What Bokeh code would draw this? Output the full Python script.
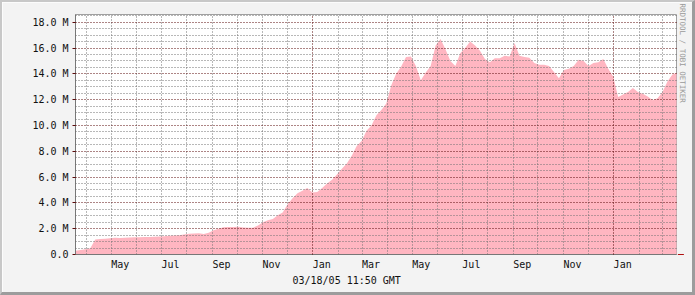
import pandas as pd
from bokeh.plotting import figure
from bokeh.layouts import column
from bokeh.models import Range1d, FixedTicker, Grid, Title, Arrow, NormalHead
from bokeh.embed import file_html
from bokeh.resources import INLINE

# ---------------- data ----------------
epoch = "2003-01-01"
window_start = "2003-03-18 11:50"
window_end = "2005-03-18 11:50"
sample_step = "6D"
values_m = [
    0.30, 0.34, 0.40, 0.48, 1.17, 1.20, 1.22, 1.25, 1.29, 1.28,
    1.30, 1.31, 1.33, 1.34, 1.36, 1.35, 1.38, 1.40, 1.42, 1.45,
    1.48, 1.50, 1.55, 1.60, 1.62, 1.64, 1.58, 1.68, 1.88, 2.00,
    2.12, 2.14, 2.13, 2.15, 2.10, 2.07, 2.08, 2.25, 2.50, 2.65,
    2.75, 3.05, 3.25, 3.90, 4.35, 4.75, 4.95, 5.15, 4.80, 4.85,
    5.15, 5.50, 5.80, 6.20, 6.65, 7.05, 7.65, 8.40, 8.80, 9.60,
    10.00, 10.80, 11.20, 11.70, 13.10, 14.00, 14.55, 15.30, 15.35, 14.60,
    13.50, 14.10, 14.60, 16.20, 16.70, 15.90, 15.00, 14.60, 15.60, 16.00,
    16.50, 16.20, 15.80, 15.15, 14.90, 15.20, 15.20, 15.40, 15.35, 16.40,
    15.40, 15.30, 15.25, 14.85, 14.70, 14.70, 14.60, 14.15, 13.65, 14.30,
    14.40, 14.60, 15.10, 15.00, 14.60, 14.85, 14.90, 15.15, 14.40, 13.80,
    12.20, 12.40, 12.60, 12.90, 12.60, 12.45, 12.25, 11.95, 12.10, 12.60,
    13.40, 13.95, 14.10,
]
y_ticks = [0, 2, 4, 6, 8, 10, 12, 14, 16, 18]
y_tick_labels = ["0.0", "2.0 M", "4.0 M", "6.0 M", "8.0 M", "10.0 M",
                 "12.0 M", "14.0 M", "16.0 M", "18.0 M"]
y_top = 18.6
y_minor = [0.5, 1, 1.5, 2.5, 3, 3.5, 4.5, 5, 5.5, 6.5, 7, 7.5, 8.5, 9, 9.5,
           10.5, 11, 11.5, 12.5, 13, 13.5, 14.5, 15, 15.5, 16.5, 17, 17.5, 18.5]
month_lines = ["2003-04-01", "2003-05-01", "2003-06-01", "2003-07-01", "2003-08-01",
               "2003-09-01", "2003-10-01", "2003-11-01", "2003-12-01", "2004-02-01",
               "2004-03-01", "2004-04-01", "2004-05-01", "2004-06-01", "2004-07-01",
               "2004-08-01", "2004-09-01", "2004-10-01", "2004-11-01", "2004-12-01",
               "2005-02-01", "2005-03-01"]
year_lines = ["2004-01-01", "2005-01-01"]
label_months = ["2003-05-01", "2003-07-01", "2003-09-01", "2003-11-01", "2004-01-01",
                "2004-03-01", "2004-05-01", "2004-07-01", "2004-09-01", "2004-11-01",
                "2005-01-01"]
label_text = ["May", "Jul", "Sep", "Nov", "Jan", "Mar", "May", "Jul", "Sep", "Nov", "Jan"]
stamp = "03/18/05 11:50 GMT"
watermark = "RRDTOOL / TOBI OETIKER"

# ---------------- helpers ----------------
t0 = pd.Timestamp(epoch)
day = pd.Timedelta(days=1)


def to_days(d):
    return float((pd.Timestamp(d) - t0) / day)


sample_dates = pd.date_range(window_start, periods=len(values_m), freq=sample_step)
xs = [to_days(d) for d in sample_dates]
x0 = to_days(window_start)
x1 = to_days(window_end)
label_shift = 11  # label left edge sits at the month start
label_x = [to_days(d) + label_shift for d in label_months]

FONT = "DejaVu Sans Mono"
MAJ = "#5a0a0a"
MIN = "#707070"
BG = "#f3f3f3"
W, H = 690, 290   # inside a 2/3 px picture frame -> 695 x 295 in total

p = figure(width=W, height=H, output_backend="svg", toolbar_location=None,
           x_range=Range1d(x0, x1), y_range=Range1d(0, y_top),
           min_border_left=73, min_border_right=16, min_border_top=12,
           min_border_bottom=38, background_fill_color="white",
           border_fill_color=BG, outline_line_color="#a0a0a0")

p.varea(x=xs, y1=[0] * len(xs), y2=values_m, fill_color="#ffb6c1", fill_alpha=1.0)

# grids
p.xgrid.ticker = FixedTicker(ticks=[to_days(d) for d in month_lines])
p.xgrid.grid_line_color = MIN
p.xgrid.grid_line_dash = "1 2"
p.xgrid.level = "overlay"
p.ygrid.ticker = FixedTicker(ticks=y_minor)
p.ygrid.grid_line_color = MIN
p.ygrid.grid_line_dash = "1 2"
p.ygrid.level = "overlay"
p.add_layout(Grid(dimension=0, ticker=FixedTicker(ticks=[to_days(d) for d in year_lines]),
                  grid_line_color=MAJ, grid_line_dash="1 2", level="overlay"))
p.add_layout(Grid(dimension=1, ticker=FixedTicker(ticks=y_ticks[1:]),
                  grid_line_color=MAJ, grid_line_dash="1 2", level="overlay"))

# x axis
xa = p.xaxis[0]
xa.ticker = FixedTicker(ticks=label_x)
xa.major_label_overrides = {lx: t for lx, t in zip(label_x, label_text)}
xa.major_tick_line_color = None
xa.minor_tick_line_color = None
xa.axis_line_color = "#777777"
xa.major_label_standoff = -2
xa.major_label_text_font = FONT
xa.major_label_text_font_size = "10px"
xa.major_label_text_color = "#111111"

# y axis
ya = p.yaxis[0]
ya.ticker = FixedTicker(ticks=y_ticks)
ya.major_label_overrides = {v: t for v, t in zip(y_ticks, y_tick_labels)}
ya.major_tick_out = 3
ya.major_tick_in = 0
ya.major_tick_line_color = MAJ
ya.minor_tick_line_color = None
ya.axis_line_color = "#777777"
ya.major_label_standoff = 4
ya.major_label_text_font = FONT
ya.major_label_text_font_size = "10px"
ya.major_label_text_color = "#111111"

# arrow at the end of the time axis
p.add_layout(Arrow(end=NormalHead(size=6, fill_color=BG, line_color="#b01010", line_width=1),
                   x_start=x1, y_start=0, x_end=x1 + 9, y_end=0,
                   line_color="#b01010", line_width=1))

# texts
p.add_layout(Title(text=stamp, align="left", offset=217, text_font=FONT,
                   text_font_size="10px", text_font_style="normal",
                   text_color="#111111", standoff=1), "below")
p.add_layout(Title(text=watermark, align="left", offset=-11, text_font=FONT,
                   text_font_size="7.5px", text_font_style="normal",
                   text_color="#9a9a9a", standoff=2), "right")

root = column(p, styles={
    "border-style": "solid",
    "border-width": "2px 3px 3px 2px",
    "border-color": "#c8c8c8 #9c9c9c #9c9c9c #c8c8c8",
    "box-sizing": "content-box",
    "width": f"{W}px", "height": f"{H}px",
})

open("out.html", "w").write(file_html(root, INLINE))
